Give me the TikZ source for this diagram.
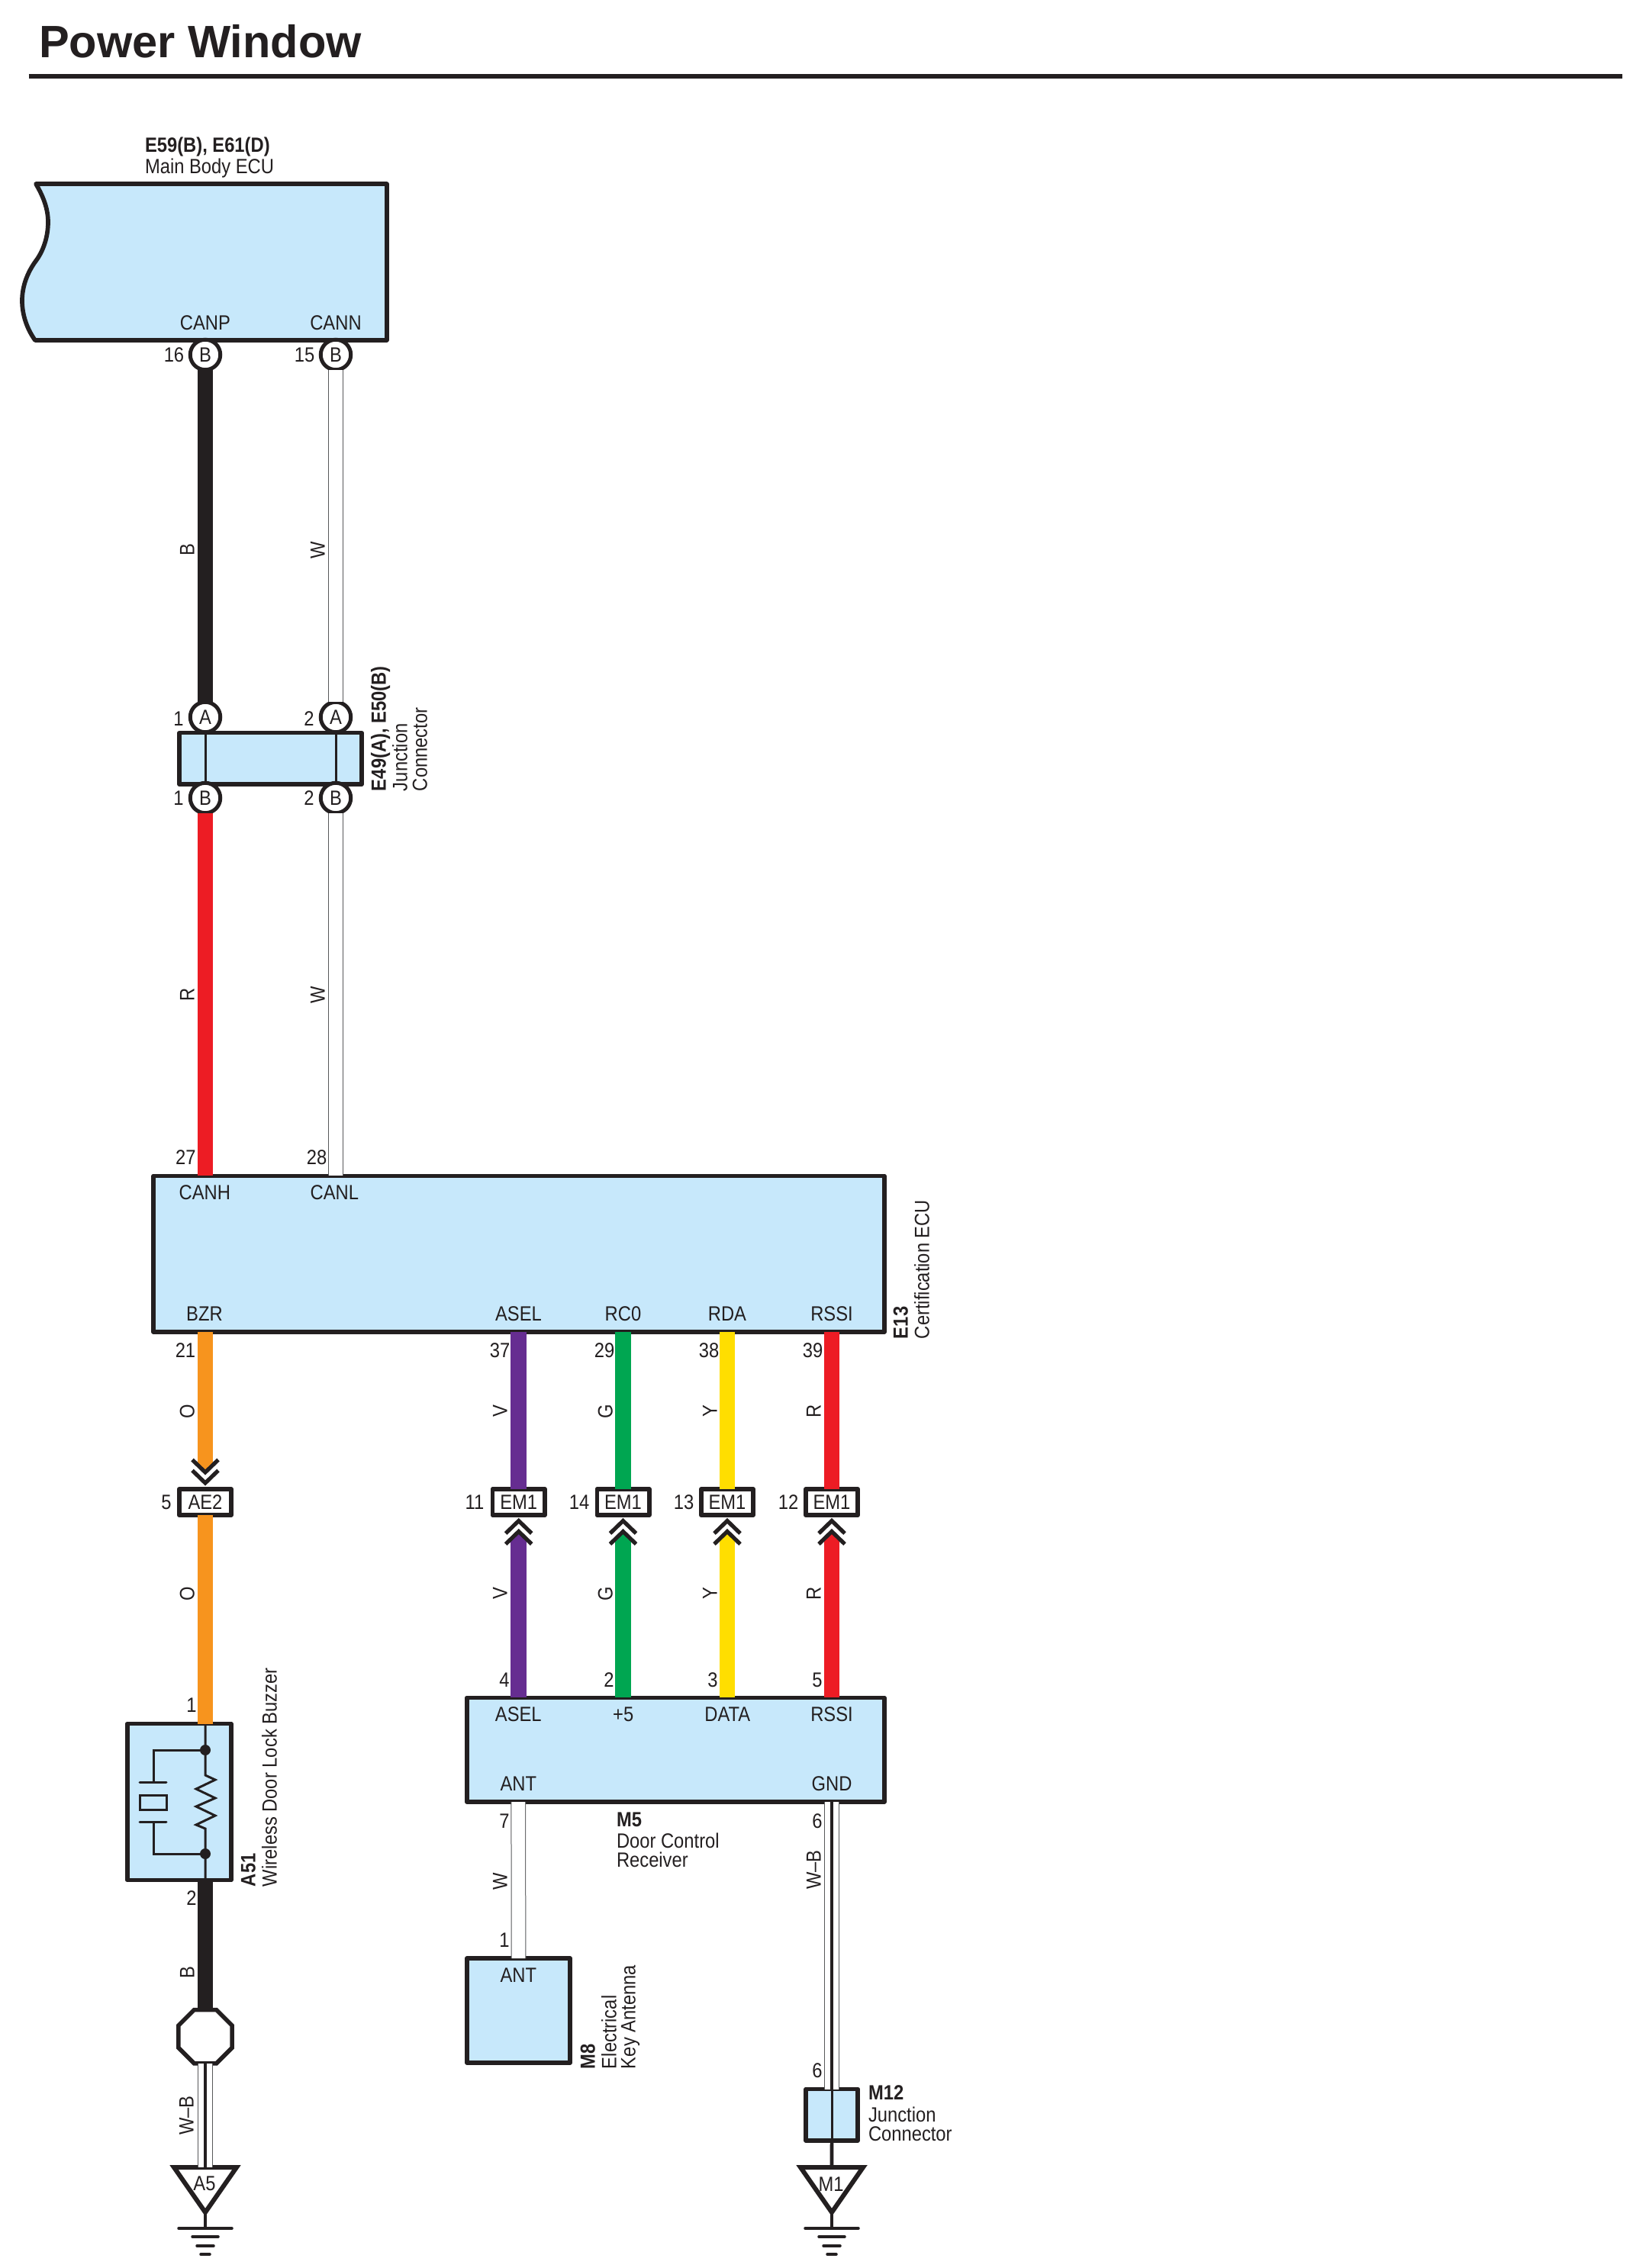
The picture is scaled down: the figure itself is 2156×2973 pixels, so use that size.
\documentclass[tikz,border=0pt]{standalone}
\usepackage{fontspec}
\usetikzlibrary{shapes.geometric}
\setmainfont{Liberation Sans}[FakeStretch=0.88]
\newfontfamily\titlefont{Liberation Sans}[FakeStretch=1.0]
\definecolor{ink}{HTML}{231F20}
\definecolor{boxblue}{HTML}{C7E8FB}
\definecolor{wred}{HTML}{ED1C24}
\definecolor{worange}{HTML}{F7941E}
\definecolor{wpurple}{HTML}{662D91}
\definecolor{wgreen}{HTML}{00A651}
\definecolor{wyellow}{HTML}{FFDE00}
\definecolor{wgray}{HTML}{58595B}
\tikzset{
  lbl/.style={inner sep=0pt,outer sep=0pt,text=ink,font=\fontsize{27}{27}\selectfont,text height=19.3pt,text depth=0pt},
  vlbl/.style={lbl,rotate=90},
  vname/.style={lbl,rotate=90,anchor=west},
  hname/.style={lbl,anchor=west},
  boldname/.style={font=\bfseries\fontsize{27}{27}\selectfont},
  boxn/.style={rectangle,draw=ink,fill=boxblue,line width=5.7pt,line join=round,inner sep=0pt,outer sep=0pt},
  pin/.style={circle,draw=ink,fill=white,line width=5pt,minimum size=39.5pt,inner sep=0pt,outer sep=0pt,text=ink,font=\fontsize{27}{27}\selectfont,text height=19.3pt,text depth=0pt},
  tag/.style={rectangle,draw=ink,fill=white,line width=5.7pt,line join=round,minimum width=68.3pt,minimum height=34.3pt,inner sep=0pt,outer sep=0pt,text=ink,font=\fontsize{27}{27}\selectfont,text height=19.3pt,text depth=0pt},
  wirec/.style={draw=#1,line width=20.5pt},
  thinw/.style={draw=wgray,line width=1pt,double=white,double distance=17.7pt},
  core/.style={draw=ink,line width=4.7pt},
  inner/.style={draw=ink,line width=3pt},
  chevdown/.pic={
    \fill[white] (-18,-31)--(0,-14)--(18,-31)--(18,3)--(-18,3)--cycle;
    \draw[ink,line width=5.2pt] (-17,-30.5)--(0,-14)--(17,-30.5);
    \draw[ink,line width=5.2pt] (-17,-16.5)--(0,0)--(17,-16.5);
  },
  chevup/.pic={
    \fill[white] (-18,31)--(0,14)--(18,31)--(18,-3)--(-18,-3)--cycle;
    \draw[ink,line width=5.2pt] (-17,16.5)--(0,0)--(17,16.5);
    \draw[ink,line width=5.2pt] (-17,30.5)--(0,14)--(17,30.5);
  },
  gndsym/.pic={
    \draw[ink,line width=6pt,fill=white,line join=miter] (-41,0)--(41,0)--(0,59)--cycle;
    \draw[ink,line width=3.5pt] (0,60)--(0,80);
    \draw[ink,line width=3.5pt,line cap=round] (-35,80)--(35,80);
    \draw[ink,line width=3.5pt,line cap=round] (-17,91)--(17,91);
    \draw[ink,line width=3.5pt,line cap=round] (-11,103)--(11,103);
    \draw[ink,line width=3.5pt,line cap=round] (-6,114)--(6,114);
  },
}
\begin{document}
\begin{tikzpicture}[x=1pt,y=-1pt]
\path[use as bounding box,fill=white] (0,0) rectangle (2156,2973);

% title
\node[inner sep=0pt,anchor=west,text=ink,font=\titlefont\bfseries\fontsize{59.5}{60}\selectfont,text height=43pt,text depth=0pt] (title) at (51,54.5) {Power Window};
\draw[ink,line width=6pt] (37.5,100.3) -- (2126,100.3);

% Main Body ECU
\draw[ink,line width=5.7pt,fill=boxblue,line join=round] (47,241)
  .. controls (57,258) and (63,274) .. (63,291)
  .. controls (63,312) and (56,330) .. (47,342)
  .. controls (36,357) and (29,375) .. (29,394)
  .. controls (29,414) and (36,432) .. (46,446)
  -- (507,446) -- (507,241) -- cycle;
\node[hname,boldname] (e59) at (190,190) {E59(B), E61(D)};
\node[hname] (mbecu) at (190,218) {Main Body ECU};
\node[lbl] (canp) at (269,423) {CANP};
\node[lbl] (cann) at (440,423) {CANN};
\node[pin] (pcanp) at (269,465) {B};
\node[pin] (pcann) at (440,465) {B};
\node[lbl] (n16) at (228,465) {16};
\node[lbl] (n15) at (399,465) {15};

% Junction connector E49/E50
\node[boxn,minimum width=238.6pt,minimum height=67.6pt] (jc) at (354.5,994.4) {};
\node[pin] (jaa) at (269,940) {A};
\node[pin] (jab) at (440,940) {A};
\node[pin] (jba) at (269,1046) {B};
\node[pin] (jbb) at (440,1046) {B};
\draw[inner] (jaa) -- (jba);
\draw[inner] (jab) -- (jbb);
\node[lbl] (n1a) at (234,942) {1};
\node[lbl] (n2a) at (405,942) {2};
\node[lbl] (n1b) at (234,1046) {1};
\node[lbl] (n2b) at (405,1046) {2};
\node[vname,boldname] (e49) at (496,1037) {E49(A), E50(B)};
\node[vname] (jc1) at (524,1037) {Junction};
\node[vname] (jc2) at (550,1037) {Connector};

% Certification ECU
\node[boxn,minimum width=957.8pt,minimum height=204.5pt] (cert) at (680,1643.7) {};
\node[lbl] (canh) at (268.3,1563.3) {CANH};
\node[lbl] (canl) at (438.3,1563.3) {CANL};
\node[lbl] (bzr) at (268,1722) {BZR};
\node[lbl] (asel) at (679.5,1722) {ASEL};
\node[lbl] (rco) at (816.5,1722) {RC0};
\node[lbl] (rda) at (953,1722) {RDA};
\node[lbl] (rssi) at (1090,1722) {RSSI};
\node[lbl] (n27) at (243.3,1516.7) {27};
\node[lbl] (n28) at (415,1516.7) {28};
\node[lbl] (n21) at (243,1770) {21};
\node[lbl] (n37) at (655,1770) {37};
\node[lbl] (n29) at (792,1770) {29};
\node[lbl] (n38) at (929,1770) {38};
\node[lbl] (n39) at (1065,1770) {39};
\node[vname,boldname] (e13) at (1180,1755) {E13};
\node[vname] (certn) at (1208,1755) {Certification ECU};

% inline connectors
\node[tag] (ae2) at (269,1969) {AE2};
\node[tag] (ema) at (679.7,1969) {EM1};
\node[tag] (emb) at (816.5,1969) {EM1};
\node[tag] (emc) at (953,1969) {EM1};
\node[tag] (emd) at (1090,1969) {EM1};
\node[lbl] (n5) at (218,1969) {5};
\node[lbl] (n11) at (622,1969) {11};
\node[lbl] (n14) at (759,1969) {14};
\node[lbl] (n13) at (896,1969) {13};
\node[lbl] (n12) at (1033,1969) {12};

% Door Control Receiver
\node[boxn,minimum width=547.1pt,minimum height=136.7pt] (recv) at (885.25,2293.7) {};
\node[lbl] (rasel) at (679.3,2246.7) {ASEL};
\node[lbl] (rp5) at (816.7,2246.7) {+5};
\node[lbl] (rdata) at (953.3,2246.7) {DATA};
\node[lbl] (rrssi) at (1090,2246.7) {RSSI};
\node[lbl] (rant) at (679.3,2337.7) {ANT};
\node[lbl] (rgnd) at (1090,2337.7) {GND};
\node[lbl] (n4) at (661,2202) {4};
\node[lbl] (n2) at (798,2202) {2};
\node[lbl] (n3) at (934,2202) {3};
\node[lbl] (n5b) at (1071,2202) {5};
\node[hname,boldname] (m5) at (808,2385) {M5};
\node[hname] (m5a) at (808,2413) {Door Control};
\node[hname] (m5b) at (808,2438) {Receiver};
\node[lbl] (n7) at (661,2387) {7};
\node[lbl] (n6) at (1071,2387) {6};
\node[lbl] (n1c) at (661,2543) {1};

% Key antenna
\node[boxn,minimum width=135.4pt,minimum height=136.8pt] (m8) at (679.5,2635.5) {};
\node[lbl] (mant) at (679.3,2589) {ANT};
\node[vname,boldname] (m8n) at (770,2712) {M8};
\node[vname] (m8a) at (798,2712) {Electrical};
\node[vname] (m8b) at (823,2712) {Key Antenna};

% Buzzer
\node[boxn,minimum width=135.9pt,minimum height=205pt] (buz) at (234.9,2362) {};
\coordinate (dt) at (269,2294);
\coordinate (db) at (269,2430);
\draw[inner] (buz.north -| dt) -- (269,2327) -- (282,2333) -- (257,2345) -- (282,2357) -- (257,2368) -- (282,2380) -- (257,2392) -- (269,2397) -- (buz.south -| dt);
\draw[inner] (dt) -- (201,2294) -- (201,2336);
\draw[inner] (db) -- (201,2430) -- (201,2388);
\draw[inner,line cap=round] (183,2336) -- (218,2336);
\draw[inner,line cap=round] (183,2388) -- (218,2388);
\draw[inner] (183,2353) rectangle (218,2372);
\fill[ink] (dt) circle (7);
\fill[ink] (db) circle (7);
\node[lbl] (n1d) at (251,2235) {1};
\node[lbl] (n2d) at (251,2488) {2};
\node[vname,boldname] (a51) at (325,2473) {A51};
\node[vname] (a51n) at (353,2473) {Wireless Door Lock Buzzer};

% Octagon splice
\node[regular polygon,regular polygon sides=8,draw=ink,fill=white,line width=5.5pt,minimum size=76pt,inner sep=0pt,outer sep=0pt] (oct) at (269,2669.7) {};

% Grounds
\coordinate (gaTop) at (269,2841);
\coordinate (gbTop) at (1090,2841);
\pic at (gaTop) {gndsym};
\pic at (gbTop) {gndsym};
\node[lbl] (a5) at (268,2862) {A5};
\node[lbl] (m1) at (1089,2863) {M1};

% M12
\node[boxn,minimum width=67.9pt,minimum height=67.4pt] (m12) at (1090.1,2772.2) {};
\draw[inner] (m12.north) -- (m12.south);
\draw[core] (m12.south) -- (gbTop);
\node[lbl] (n6b) at (1071,2714) {6};
\node[hname,boldname] (m12n) at (1138,2743) {M12};
\node[hname] (m12a) at (1138,2772) {Junction};
\node[hname] (m12b) at (1138,2797) {Connector};

% wires
\draw[wirec=ink] (pcanp) -- (jaa);
\draw[wirec=wred] (jba) -- (cert.north -| jba);
\draw[thinw] (pcann) -- (jab);
\draw[thinw] (jbb) -- (cert.north -| jbb);

\coordinate (cvA) at (269,1930);
\draw[wirec=worange] (cert.south -| cvA) -- (cvA);
\draw[wirec=worange] (ae2) -- (buz.north -| ae2);
\pic at (269,1944) {chevdown};

\draw[wirec=wpurple] (cert.south -| ema) -- (ema);
\draw[wirec=wgreen] (cert.south -| emb) -- (emb);
\draw[wirec=wyellow] (cert.south -| emc) -- (emc);
\draw[wirec=wred] (cert.south -| emd) -- (emd);

\coordinate (cva) at (679.7,2008);
\coordinate (cvb) at (816.5,2008);
\coordinate (cvc) at (953,2008);
\coordinate (cvd) at (1090,2008);
\draw[wirec=wpurple] (cva) -- (recv.north -| cva);
\draw[wirec=wgreen] (cvb) -- (recv.north -| cvb);
\draw[wirec=wyellow] (cvc) -- (recv.north -| cvc);
\draw[wirec=wred] (cvd) -- (recv.north -| cvd);
\pic at (679.7,1993.5) {chevup};
\pic at (816.5,1993.5) {chevup};
\pic at (953,1993.5) {chevup};
\pic at (1090,1993.5) {chevup};

\draw[wirec=ink] (buz.south -| ae2) -- (oct);

\draw[thinw] (oct) -- (gaTop);
\draw[core] (oct) -- (gaTop);

\draw[thinw] (recv.south -| mant) -- (m8);
\draw[thinw] (recv.south -| m12) -- (m12);
\draw[core] (recv.south -| m12) -- (m12);

% wire colour codes
\node[vlbl] (cb) at (245,721) {B};
\node[vlbl] (cw1) at (416,721) {W};
\node[vlbl] (cr) at (245,1304) {R};
\node[vlbl] (cw2) at (416,1304) {W};
\node[vlbl] (co1) at (245,1850) {O};
\node[vlbl] (cv1) at (655,1850) {V};
\node[vlbl] (cg1) at (793,1850) {G};
\node[vlbl] (cy1) at (930,1850) {Y};
\node[vlbl] (cr1) at (1066,1850) {R};
\node[vlbl] (co2) at (245,2089) {O};
\node[vlbl] (cv2) at (655,2089) {V};
\node[vlbl] (cg2) at (793,2089) {G};
\node[vlbl] (cy2) at (930,2089) {Y};
\node[vlbl] (cr2) at (1066,2089) {R};
\node[vlbl] (cw3) at (655,2466) {W};
\node[vlbl] (cwb1) at (1066,2451) {W–B};
\node[vlbl] (cb2) at (245,2586) {B};
\node[vlbl] (cwb2) at (244,2773) {W–B};
\end{tikzpicture}
\end{document}
